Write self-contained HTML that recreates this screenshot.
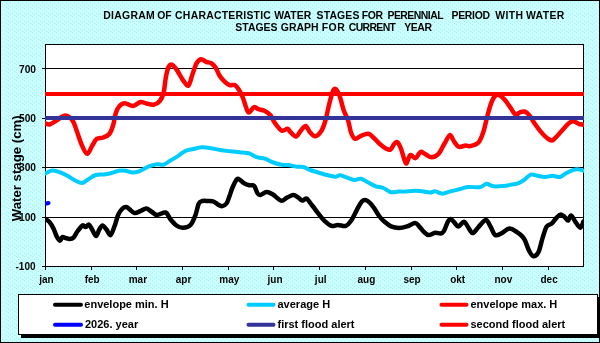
<!DOCTYPE html>
<html><head><meta charset="utf-8"><style>
html,body{margin:0;padding:0;width:600px;height:343px;overflow:hidden;background:#ccffff;}
svg{display:block;will-change:transform;}
text{font-family:"Liberation Sans",sans-serif;font-weight:bold;}
</style></head><body>
<svg width="600" height="343" viewBox="0 0 600 343" shape-rendering="auto">
<defs>
<clipPath id="pc"><rect x="45" y="0" width="539" height="343"/></clipPath>
<pattern id="dots" width="8" height="8" patternUnits="userSpaceOnUse">
<rect width="8" height="8" fill="#c8ffff"/>
<rect x="0" y="0" width="1" height="1" fill="#b2eaf6"/>
<rect x="4" y="1" width="1" height="1" fill="#b2eaf6"/>
<rect x="2" y="3" width="1" height="1" fill="#b2eaf6"/>
<rect x="6" y="3" width="1" height="1" fill="#b2eaf6"/>
<rect x="0" y="5" width="1" height="1" fill="#b2eaf6"/>
<rect x="4" y="5" width="1" height="1" fill="#b2eaf6"/>
<rect x="2" y="6" width="1" height="1" fill="#b2eaf6"/>
<rect x="6" y="7" width="1" height="1" fill="#b2eaf6"/>
</pattern>
</defs>
<rect x="0" y="0" width="600" height="343" fill="url(#dots)"/>
<rect x="0.5" y="0.5" width="599" height="342" fill="none" stroke="#000" stroke-width="1"/>

<text y="19" font-size="10.45" fill="#000"><tspan x="103.24" style="letter-spacing:0.27px">DIAGRAM</tspan><tspan x="157.15" style="letter-spacing:0.00px">OF</tspan><tspan x="175.10" style="letter-spacing:0.23px">CHARACTERISTIC</tspan><tspan x="274.30" style="letter-spacing:0.00px">WATER</tspan><tspan x="316.55" style="letter-spacing:0.15px">STAGES</tspan><tspan x="361.64" style="letter-spacing:-0.30px">FOR</tspan><tspan x="387.54" style="letter-spacing:-0.54px">PERENNIAL</tspan><tspan x="451.44" style="letter-spacing:-0.26px">PERIOD</tspan><tspan x="495.20" style="letter-spacing:0.43px">WITH</tspan><tspan x="525.90" style="letter-spacing:0.37px">WATER</tspan></text>
<text y="31" font-size="10.45" fill="#000"><tspan x="235.35" style="letter-spacing:0.00px">STAGES</tspan><tspan x="280.85" style="letter-spacing:0.00px">GRAPH</tspan><tspan x="321.74" style="letter-spacing:0.50px">FOR</tspan><tspan x="348.80" style="letter-spacing:-0.65px">CURRENT</tspan><tspan x="404.20" style="letter-spacing:-0.37px">YEAR</tspan></text>
<rect x="45.5" y="44.5" width="538" height="222" fill="#fff" stroke="#000" stroke-width="1"/>
<line x1="42" y1="68.5" x2="583.5" y2="68.5" stroke="#000" stroke-width="1"/>
<text x="36" y="72.5" text-anchor="end" font-size="10.2" fill="#000">700</text>
<line x1="42" y1="118.5" x2="583.5" y2="118.5" stroke="#000" stroke-width="1"/>
<text x="36" y="121.7" text-anchor="end" font-size="10.2" fill="#000">500</text>
<line x1="42" y1="167.5" x2="583.5" y2="167.5" stroke="#000" stroke-width="1"/>
<text x="36" y="170.7" text-anchor="end" font-size="10.2" fill="#000">300</text>
<line x1="42" y1="217.5" x2="583.5" y2="217.5" stroke="#000" stroke-width="1"/>
<text x="36" y="220.7" text-anchor="end" font-size="10.2" fill="#000">100</text>
<line x1="42" y1="266.5" x2="45" y2="266.5" stroke="#000" stroke-width="1"/>
<text x="35.5" y="270" text-anchor="end" font-size="10" fill="#000">-100</text>
<line x1="45.5" y1="266" x2="45.5" y2="270" stroke="#000" stroke-width="1"/>
<text x="46.5" y="283" text-anchor="middle" font-size="10" fill="#000">jan</text>
<line x1="91.5" y1="266" x2="91.5" y2="270" stroke="#000" stroke-width="1"/>
<text x="92.2" y="283" text-anchor="middle" font-size="10" fill="#000">feb</text>
<line x1="136.5" y1="266" x2="136.5" y2="270" stroke="#000" stroke-width="1"/>
<text x="137.9" y="283" text-anchor="middle" font-size="10" fill="#000">mar</text>
<line x1="182.5" y1="266" x2="182.5" y2="270" stroke="#000" stroke-width="1"/>
<text x="183.6" y="283" text-anchor="middle" font-size="10" fill="#000">apr</text>
<line x1="228.5" y1="266" x2="228.5" y2="270" stroke="#000" stroke-width="1"/>
<text x="229.3" y="283" text-anchor="middle" font-size="10" fill="#000">may</text>
<line x1="273.5" y1="266" x2="273.5" y2="270" stroke="#000" stroke-width="1"/>
<text x="275.0" y="283" text-anchor="middle" font-size="10" fill="#000">jun</text>
<line x1="319.5" y1="266" x2="319.5" y2="270" stroke="#000" stroke-width="1"/>
<text x="320.7" y="283" text-anchor="middle" font-size="10" fill="#000">jul</text>
<line x1="365.5" y1="266" x2="365.5" y2="270" stroke="#000" stroke-width="1"/>
<text x="366.4" y="283" text-anchor="middle" font-size="10" fill="#000">aug</text>
<line x1="411.5" y1="266" x2="411.5" y2="270" stroke="#000" stroke-width="1"/>
<text x="412.0" y="283" text-anchor="middle" font-size="10" fill="#000">sep</text>
<line x1="456.5" y1="266" x2="456.5" y2="270" stroke="#000" stroke-width="1"/>
<text x="457.7" y="283" text-anchor="middle" font-size="10" fill="#000">okt</text>
<line x1="502.5" y1="266" x2="502.5" y2="270" stroke="#000" stroke-width="1"/>
<text x="503.4" y="283" text-anchor="middle" font-size="10" fill="#000">nov</text>
<line x1="548.5" y1="266" x2="548.5" y2="270" stroke="#000" stroke-width="1"/>
<text x="549.1" y="283" text-anchor="middle" font-size="10" fill="#000">dec</text>
<text transform="translate(21.2,168.3) rotate(-90)" text-anchor="middle" font-size="13.2" fill="#000">Water stage (cm)</text>
<g fill="none" stroke-linejoin="round" stroke-linecap="round" clip-path="url(#pc)">
<path d="M45.5,173.5 C46.6,173.0 49.8,170.7 52.3,170.5 C54.8,170.3 57.9,171.5 60.7,172.5 C63.5,173.5 66.5,175.3 69.0,176.7 C71.5,178.1 73.5,179.8 75.7,180.8 C77.9,181.9 80.0,183.2 82.0,183.0 C84.0,182.8 85.7,180.8 88.0,179.5 C90.3,178.2 93.0,175.8 95.7,175.0 C98.4,174.2 101.5,174.8 104.0,174.5 C106.5,174.2 108.2,173.9 110.7,173.3 C113.2,172.7 116.5,171.2 119.0,170.8 C121.5,170.4 123.5,170.5 125.7,170.8 C127.9,171.1 130.1,172.4 132.3,172.5 C134.5,172.6 136.3,172.3 139.0,171.3 C141.7,170.3 145.4,167.9 148.3,166.7 C151.2,165.5 154.2,164.5 156.7,164.2 C159.2,163.9 161.1,165.3 163.3,164.7 C165.5,164.1 167.5,162.3 170.0,160.8 C172.5,159.3 175.7,157.5 178.3,155.8 C180.9,154.1 183.0,151.9 185.5,150.8 C188.0,149.7 190.6,149.6 193.3,149.0 C196.0,148.4 198.9,147.5 201.7,147.3 C204.5,147.1 206.9,147.6 210.0,148.0 C213.1,148.4 216.7,149.4 220.0,150.0 C223.3,150.6 226.4,150.9 230.0,151.3 C233.6,151.7 238.5,152.2 241.7,152.5 C244.9,152.8 246.7,152.5 249.2,153.3 C251.7,154.1 254.1,156.3 256.7,157.2 C259.3,158.1 262.2,157.8 265.0,158.7 C267.8,159.6 270.5,161.5 273.3,162.5 C276.1,163.5 279.2,164.3 281.7,164.7 C284.2,165.1 285.8,164.7 288.3,165.0 C290.8,165.3 294.2,166.4 296.7,166.7 C299.2,167.0 301.1,166.4 303.3,167.0 C305.5,167.6 307.5,169.1 310.0,170.0 C312.5,170.9 315.5,171.7 318.3,172.5 C321.1,173.3 323.9,174.3 326.7,175.0 C329.5,175.7 332.8,176.6 335.0,176.7 C337.2,176.8 338.1,175.2 340.0,175.3 C341.9,175.4 344.3,176.7 346.7,177.5 C349.1,178.3 351.8,179.8 354.2,180.0 C356.6,180.2 358.4,178.3 360.8,178.7 C363.2,179.1 365.8,181.2 368.3,182.5 C370.8,183.8 373.3,185.4 375.8,186.3 C378.3,187.2 380.8,187.0 383.3,188.0 C385.8,189.0 388.3,191.6 390.8,192.2 C393.3,192.8 395.9,191.7 398.3,191.6 C400.7,191.5 402.8,191.7 405.0,191.6 C407.2,191.5 409.2,191.0 411.7,190.9 C414.2,190.8 416.9,190.7 420.0,191.0 C423.1,191.3 427.5,192.4 430.0,192.5 C432.5,192.6 432.9,191.1 435.0,191.3 C437.1,191.5 440.0,193.7 442.5,193.7 C445.0,193.7 447.4,192.2 450.0,191.5 C452.6,190.8 455.3,190.2 458.3,189.5 C461.3,188.8 464.4,187.4 468.0,187.0 C471.6,186.6 476.9,187.7 480.0,187.2 C483.1,186.7 484.5,184.0 486.7,183.8 C488.9,183.7 490.5,185.9 493.3,186.3 C496.1,186.7 500.0,186.3 503.3,186.0 C506.6,185.7 510.8,184.6 513.3,184.2 C515.8,183.8 516.2,184.0 518.0,183.3 C519.8,182.6 521.9,181.4 524.0,180.0 C526.1,178.6 528.5,175.4 530.7,174.7 C533.0,174.0 535.1,175.4 537.5,175.8 C539.9,176.2 542.5,177.0 545.0,177.0 C547.5,177.0 550.0,175.8 552.5,175.8 C555.0,175.8 557.8,177.4 560.0,177.0 C562.2,176.6 563.8,174.4 566.0,173.2 C568.2,172.0 571.5,170.5 573.5,169.8 C575.5,169.1 576.4,169.0 578.0,169.2 C579.6,169.3 582.3,170.4 583.2,170.7" stroke="#00ccff" stroke-width="4"/>
<path d="M45.6,219.0 C46.3,219.5 48.3,220.6 49.6,222.2 C50.9,223.8 52.4,226.3 53.6,228.7 C54.8,231.1 55.7,234.7 56.8,236.7 C57.9,238.7 59.1,240.6 60.0,240.7 C60.9,240.8 61.5,237.4 62.4,237.0 C63.3,236.6 64.4,237.7 65.6,238.0 C66.8,238.3 68.3,239.2 69.6,239.1 C70.9,239.0 72.2,238.8 73.6,237.5 C74.9,236.2 76.2,233.0 77.7,231.0 C79.2,229.0 81.2,226.1 82.5,225.4 C83.8,224.7 84.6,227.1 85.7,227.0 C86.8,226.9 87.8,224.2 88.9,224.6 C90.0,225.0 90.9,227.6 92.1,229.5 C93.3,231.4 94.9,235.9 96.1,235.9 C97.3,235.9 98.2,231.2 99.3,229.5 C100.4,227.8 101.3,225.4 102.5,225.4 C103.7,225.4 105.2,227.9 106.5,229.5 C107.8,231.1 109.2,235.6 110.5,235.1 C111.8,234.6 113.2,229.7 114.5,226.3 C115.8,222.9 117.0,217.5 118.3,214.5 C119.6,211.5 121.2,209.8 122.5,208.5 C123.8,207.2 125.1,206.8 126.3,206.9 C127.5,207.0 128.2,208.3 129.6,209.3 C130.9,210.3 132.5,212.7 134.4,213.0 C136.3,213.3 138.8,211.7 140.8,210.9 C142.8,210.2 144.5,208.3 146.4,208.5 C148.3,208.7 150.2,210.9 152.0,212.0 C153.8,213.1 154.6,214.8 156.9,214.9 C159.2,215.0 163.5,211.8 165.7,212.5 C167.9,213.2 168.4,216.8 170.2,219.0 C172.0,221.2 174.4,224.0 176.5,225.5 C178.6,227.0 180.7,227.9 183.0,227.8 C185.3,227.7 188.4,227.1 190.5,225.0 C192.6,222.9 194.1,218.6 195.5,215.0 C196.9,211.4 197.6,205.8 198.8,203.5 C200.0,201.2 201.0,201.4 202.5,201.0 C204.0,200.6 206.2,200.9 208.0,201.0 C209.8,201.1 211.9,200.9 213.5,201.5 C215.1,202.1 216.1,203.5 217.5,204.3 C218.9,205.1 220.5,206.3 222.0,206.2 C223.5,206.1 225.2,205.2 226.5,203.5 C227.8,201.8 228.5,198.7 229.5,196.0 C230.5,193.3 231.4,190.1 232.5,187.5 C233.6,184.9 235.0,181.9 236.0,180.5 C237.0,179.1 237.0,178.4 238.4,178.9 C239.8,179.4 242.5,182.2 244.3,183.3 C246.1,184.4 247.8,184.9 249.4,185.3 C251.0,185.7 252.7,184.5 254.1,185.9 C255.5,187.3 256.5,192.0 257.6,193.5 C258.7,195.0 259.1,195.2 260.6,194.9 C262.1,194.7 264.6,192.1 266.7,192.0 C268.8,191.9 270.5,193.1 272.9,194.5 C275.3,195.9 278.6,200.1 281.0,200.6 C283.4,201.1 285.1,198.5 287.1,197.6 C289.2,196.7 291.4,195.1 293.3,195.1 C295.2,195.1 296.9,196.7 298.4,197.6 C299.9,198.5 301.0,200.4 302.4,200.6 C303.8,200.8 304.9,197.8 306.5,198.6 C308.1,199.4 310.2,203.0 312.2,205.5 C314.2,208.0 316.3,211.1 318.4,213.7 C320.4,216.2 322.3,218.8 324.5,220.8 C326.7,222.8 329.4,225.2 331.6,225.9 C333.8,226.6 335.4,224.9 337.8,224.9 C340.2,224.9 343.7,226.6 345.9,225.9 C348.1,225.2 349.1,223.5 351.0,220.8 C352.9,218.1 355.2,212.8 357.0,209.6 C358.8,206.4 360.3,203.1 361.8,201.5 C363.3,199.9 364.5,199.8 366.0,200.2 C367.5,200.6 369.3,202.2 370.8,203.8 C372.3,205.4 373.6,207.4 375.0,209.5 C376.4,211.6 377.9,214.4 379.5,216.5 C381.1,218.6 382.7,220.2 384.6,221.8 C386.5,223.4 388.6,225.3 391.0,226.3 C393.4,227.3 396.3,227.9 399.0,227.9 C401.7,227.9 404.4,227.1 407.1,226.3 C409.8,225.5 413.1,223.0 415.1,223.0 C417.1,223.0 417.6,224.8 419.1,226.3 C420.6,227.8 422.3,230.4 423.9,231.9 C425.5,233.4 426.8,235.0 428.7,235.1 C430.6,235.2 433.1,233.0 435.1,232.7 C437.1,232.4 439.2,233.8 440.7,233.5 C442.2,233.2 442.7,233.0 443.9,231.1 C445.1,229.2 446.7,223.8 447.8,221.8 C448.9,219.8 449.6,218.8 450.7,218.9 C451.8,219.1 453.2,221.4 454.5,222.7 C455.8,224.0 456.7,226.7 458.3,226.5 C459.9,226.3 462.3,221.8 463.9,221.8 C465.5,221.8 466.3,224.6 467.7,226.5 C469.1,228.4 470.8,232.9 472.5,233.1 C474.2,233.3 475.9,229.7 478.1,227.5 C480.3,225.3 483.6,220.1 485.7,219.9 C487.8,219.7 488.9,224.0 490.5,226.5 C492.1,229.0 493.3,233.9 495.2,235.0 C497.1,236.1 499.4,234.2 501.8,233.1 C504.2,232.0 506.9,228.6 509.4,228.4 C511.9,228.2 514.8,230.8 517.0,232.2 C519.2,233.6 521.3,235.4 522.7,236.9 C524.1,238.4 524.1,238.5 525.2,240.9 C526.3,243.3 527.9,248.6 529.3,251.1 C530.7,253.6 531.9,256.0 533.4,256.2 C534.9,256.4 537.0,255.1 538.5,252.1 C540.0,249.1 541.2,242.2 542.6,237.9 C544.0,233.7 545.1,229.0 546.6,226.6 C548.1,224.2 550.0,225.1 551.7,223.6 C553.4,222.1 555.3,218.9 556.8,217.4 C558.3,215.9 559.5,214.4 560.9,214.4 C562.3,214.4 563.8,216.4 565.0,217.4 C566.2,218.4 567.1,220.8 568.1,220.5 C569.1,220.2 569.9,215.2 571.1,215.4 C572.3,215.6 573.7,219.4 575.2,221.5 C576.7,223.6 578.9,227.7 580.3,227.7 C581.7,227.7 582.9,222.5 583.4,221.5" stroke="#000" stroke-width="4.5"/>
<path d="M45.0,123.3 C45.9,123.5 48.2,124.8 50.1,124.3 C52.0,123.8 53.7,122.1 56.2,120.6 C58.8,119.1 62.7,115.5 65.4,115.5 C68.1,115.5 70.7,118.0 72.6,120.6 C74.5,123.1 75.2,126.7 76.7,130.8 C78.2,134.9 80.0,141.2 81.8,145.0 C83.5,148.8 85.5,153.7 87.2,153.8 C89.0,153.9 90.7,148.0 92.3,145.5 C93.9,143.0 95.0,140.1 96.8,138.8 C98.6,137.5 101.1,138.3 103.2,137.5 C105.3,136.7 107.6,136.1 109.3,134.0 C111.0,131.9 112.1,128.5 113.2,125.0 C114.3,121.5 114.8,116.2 115.8,113.0 C116.8,109.8 118.0,107.6 119.5,106.0 C121.0,104.4 122.8,103.3 125.0,103.3 C127.2,103.3 130.4,106.2 133.0,106.0 C135.6,105.8 138.2,102.4 140.4,102.0 C142.7,101.6 144.3,103.0 146.5,103.5 C148.7,104.0 151.5,105.1 153.7,104.7 C155.9,104.3 158.2,103.0 159.8,101.0 C161.5,99.0 162.6,97.0 163.6,92.9 C164.6,88.8 165.1,80.9 166.0,76.5 C166.9,72.1 167.7,68.4 168.8,66.5 C169.9,64.6 171.1,64.3 172.5,65.0 C173.9,65.7 175.3,67.8 177.1,70.4 C178.9,73.0 181.4,78.0 183.3,80.6 C185.2,83.1 186.9,86.7 188.4,85.7 C189.9,84.7 191.1,78.2 192.4,74.5 C193.8,70.8 195.1,65.8 196.5,63.3 C197.9,60.8 199.5,59.5 201.1,59.2 C202.7,59.0 204.5,61.1 206.2,61.8 C207.9,62.5 209.8,62.4 211.3,63.3 C212.8,64.2 214.0,65.3 215.4,67.3 C216.8,69.3 218.0,73.1 219.5,75.5 C221.0,77.9 222.9,80.0 224.6,81.6 C226.3,83.2 228.0,84.5 229.7,85.1 C231.4,85.7 233.3,84.3 234.8,85.1 C236.3,85.9 237.5,87.6 238.9,89.8 C240.3,92.0 241.8,95.1 243.0,98.0 C244.2,100.9 245.0,104.7 246.0,107.1 C247.0,109.5 247.4,112.5 248.8,112.5 C250.2,112.5 252.6,107.6 254.2,107.1 C255.8,106.5 256.6,108.6 258.3,109.2 C260.0,109.8 262.4,109.8 264.4,110.8 C266.4,111.8 268.9,113.5 270.5,115.3 C272.1,117.1 272.3,119.3 274.1,121.8 C275.9,124.3 279.3,129.3 281.5,130.5 C283.7,131.7 286.0,128.6 287.5,128.8 C289.0,129.1 289.0,130.7 290.4,132.0 C291.8,133.3 294.3,136.8 296.0,136.6 C297.7,136.4 299.0,132.8 300.6,131.0 C302.2,129.2 304.2,125.7 305.7,125.9 C307.2,126.1 308.2,130.3 309.8,132.0 C311.4,133.7 313.3,136.3 315.2,136.2 C317.1,136.1 319.3,134.0 321.0,131.5 C322.7,129.0 324.0,125.4 325.3,121.0 C326.6,116.6 327.8,109.9 329.0,105.0 C330.2,100.1 331.7,94.1 332.8,91.5 C333.9,88.9 334.6,88.4 335.8,89.2 C337.0,90.0 338.5,92.9 339.8,96.5 C341.1,100.1 342.4,106.6 343.8,110.6 C345.2,114.6 346.9,116.7 348.1,120.4 C349.3,124.1 349.9,129.6 351.1,132.7 C352.3,135.8 353.5,138.3 355.2,138.8 C356.9,139.3 359.1,136.5 361.3,135.7 C363.5,134.8 366.4,133.3 368.5,133.7 C370.6,134.0 371.7,136.1 373.6,137.8 C375.5,139.5 377.7,142.1 379.7,143.9 C381.7,145.7 384.0,147.5 385.8,148.4 C387.6,149.3 389.1,150.3 390.5,149.5 C391.9,148.7 393.3,144.7 394.5,143.5 C395.7,142.3 396.6,141.6 397.7,142.5 C398.8,143.4 400.0,146.2 401.1,149.0 C402.2,151.8 403.3,156.8 404.2,159.2 C405.1,161.6 405.6,164.0 406.6,163.3 C407.6,162.6 408.8,155.9 410.3,155.1 C411.8,154.2 413.7,158.7 415.4,158.2 C417.1,157.7 418.9,152.7 420.5,152.0 C422.1,151.3 422.8,152.9 424.7,153.8 C426.6,154.7 429.4,157.3 431.7,157.3 C434.0,157.3 436.4,156.2 438.6,153.8 C440.8,151.4 442.9,146.1 444.8,143.0 C446.7,139.9 448.3,135.4 449.8,135.1 C451.3,134.8 452.4,139.1 453.8,141.0 C455.2,142.9 456.6,146.0 458.5,146.8 C460.4,147.6 463.6,145.7 465.5,145.6 C467.4,145.5 467.9,146.6 470.1,146.1 C472.3,145.6 476.3,144.9 478.5,142.5 C480.7,140.1 482.1,135.7 483.5,131.5 C484.9,127.3 485.8,122.2 487.0,117.6 C488.2,112.9 489.6,107.3 491.0,103.6 C492.4,99.9 494.0,96.8 495.5,95.5 C497.0,94.2 498.5,94.7 500.1,95.5 C501.7,96.3 503.5,98.3 505.2,100.3 C506.9,102.3 508.6,105.0 510.3,107.4 C512.0,109.8 513.9,113.7 515.4,114.6 C516.9,115.5 518.0,113.1 519.5,112.6 C521.0,112.1 522.9,111.0 524.6,111.5 C526.3,112.0 528.0,113.5 529.7,115.6 C531.4,117.6 532.9,121.1 534.8,123.8 C536.7,126.5 538.9,129.5 540.9,131.9 C542.9,134.3 545.1,136.6 547.0,138.0 C548.9,139.4 550.4,140.8 552.1,140.5 C553.8,140.2 555.3,137.9 557.2,136.0 C559.1,134.1 561.4,131.1 563.4,128.9 C565.4,126.7 567.8,124.1 569.5,122.8 C571.2,121.5 572.1,121.1 573.6,121.3 C575.1,121.5 577.1,123.2 578.7,123.8 C580.3,124.4 582.5,124.6 583.2,124.8" stroke="#ff0000" stroke-width="4.5"/>
<path d="M46.5,203.5 L48.5,203" stroke="#0000ff" stroke-width="4"/>
</g>
<rect x="45" y="92" width="539" height="4" fill="#ff0000"/>
<rect x="45" y="116" width="539" height="4" fill="#333399"/>
<rect x="21" y="297" width="579" height="41" fill="#000"/>
<rect x="18.5" y="294.5" width="579" height="40" fill="#fff" stroke="#000" stroke-width="1"/>
<line x1="55.0" y1="304.8" x2="81.0" y2="304.8" stroke="#000" stroke-width="4" stroke-linecap="round"/>
<text x="84.3" y="308.3" font-size="11" fill="#000">envelope min. H</text>
<line x1="248.5" y1="304.8" x2="273.5" y2="304.8" stroke="#00ccff" stroke-width="4" stroke-linecap="round"/>
<text x="277.5" y="308.3" font-size="11" fill="#000">average H</text>
<line x1="441.5" y1="304.8" x2="466.5" y2="304.8" stroke="#ff0000" stroke-width="4" stroke-linecap="round"/>
<text x="470.5" y="308.3" font-size="11" fill="#000">envelope max. H</text>
<line x1="55.0" y1="324.8" x2="81.0" y2="324.8" stroke="#0000ff" stroke-width="4" stroke-linecap="round"/>
<text x="85.0" y="328.3" font-size="11" fill="#000">2026. year</text>
<line x1="248.5" y1="324.8" x2="273.5" y2="324.8" stroke="#333399" stroke-width="4" stroke-linecap="round"/>
<text x="277.5" y="328.3" font-size="11" fill="#000">first flood alert</text>
<line x1="441.5" y1="324.8" x2="466.5" y2="324.8" stroke="#ff0000" stroke-width="4" stroke-linecap="round"/>
<text x="470.5" y="328.3" font-size="11" fill="#000">second flood alert</text>
</svg></body></html>
